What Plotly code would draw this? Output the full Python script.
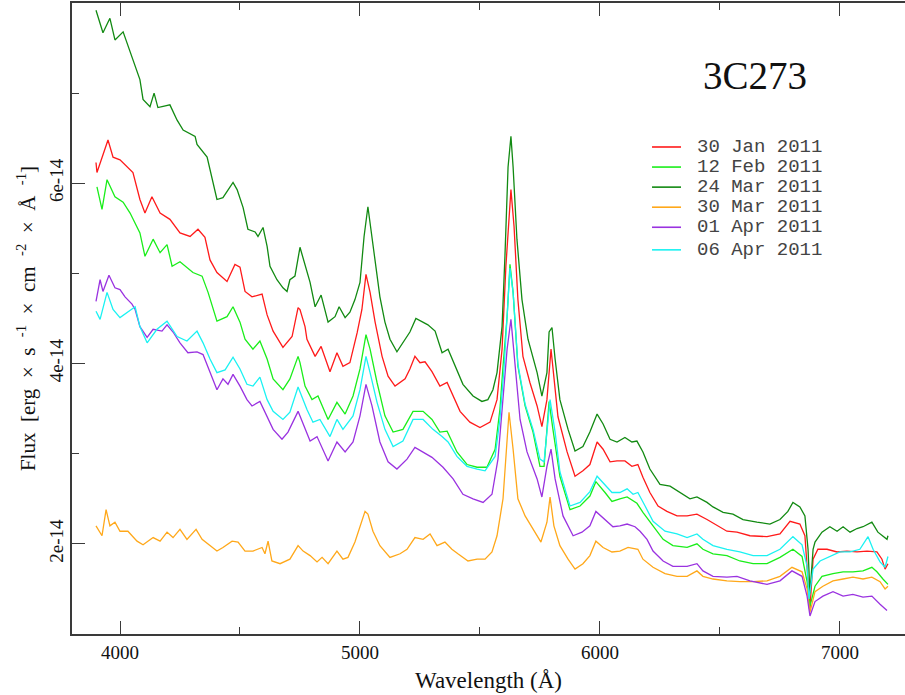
import numpy as np
import plotly.graph_objects as go

# Optical spectra of the quasar 3C 273, 2011 monitoring campaign.
# Wavelengths in Angstrom, flux in units of 1e-14 erg s^-1 cm^-2 A^-1.
FLUX_UNIT = 1e-14

wl_jan30 = [3900, 3904, 3950, 3971, 4000, 4033, 4054, 4083, 4104, 4133, 4167, 4208, 4250, 4292, 4325,
            4354, 4375, 4404, 4446, 4479, 4500, 4521, 4550, 4592, 4613, 4638, 4679, 4717, 4742, 4750,
            4771, 4779, 4813, 4838, 4875, 4904, 4929, 4958, 4988, 5008, 5025, 5042, 5063, 5092, 5117,
            5146, 5188, 5208, 5229, 5250, 5271, 5300, 5333, 5363, 5388, 5417, 5458, 5500, 5542, 5571,
            5592, 5608, 5629, 5642, 5658, 5679, 5708, 5738, 5758, 5779, 5796, 5808, 5825, 5863, 5896,
            5929, 5958, 5988, 6013, 6042, 6071, 6104, 6133, 6158, 6179, 6208, 6242, 6279, 6321, 6363,
            6404, 6446, 6488, 6529, 6571, 6625, 6696, 6750, 6792, 6833, 6854, 6867, 6875, 6888, 6908,
            6946, 6988, 7029, 7071, 7113, 7154, 7175, 7188, 7200]
flux_jan30 = [6.23, 6.12, 6.48, 6.29, 6.26, 6.18, 6.12, 5.82, 5.67, 5.85, 5.67, 5.60, 5.45, 5.41, 5.49,
              5.40, 5.15, 5.01, 4.91, 5.10, 5.07, 4.80, 4.74, 4.77, 4.54, 4.36, 4.18, 4.30, 4.62, 4.60,
              4.41, 4.27, 4.08, 4.19, 3.91, 4.12, 3.97, 4.01, 4.34, 4.60, 4.99, 4.79, 4.46, 4.08, 3.86,
              3.75, 3.83, 3.94, 4.08, 4.01, 4.02, 3.91, 3.75, 3.79, 3.64, 3.47, 3.35, 3.29, 3.35, 3.60,
              4.16, 5.08, 5.93, 5.52, 4.71, 4.08, 3.79, 3.53, 3.30, 3.60, 4.16, 3.86, 3.41, 3.02, 2.75,
              2.81, 2.88, 3.13, 3.05, 2.91, 2.92, 2.92, 2.86, 2.88, 2.74, 2.57, 2.42, 2.36, 2.31, 2.31,
              2.33, 2.27, 2.20, 2.14, 2.13, 2.09, 2.08, 2.11, 2.25, 2.22, 2.09, 1.58, 1.28, 1.83, 1.94,
              1.94, 1.91, 1.92, 1.91, 1.92, 1.91, 1.83, 1.72, 1.78]

wl_feb12 = [3904, 3925, 3946, 3979, 4013, 4042, 4083, 4104, 4138, 4167, 4196, 4217, 4250, 4304, 4342,
            4367, 4404, 4446, 4471, 4500, 4521, 4554, 4583, 4613, 4638, 4679, 4708, 4742, 4750, 4771,
            4800, 4825, 4867, 4904, 4938, 4971, 5000, 5025, 5042, 5071, 5104, 5138, 5179, 5221, 5263,
            5300, 5333, 5363, 5404, 5446, 5488, 5529, 5563, 5583, 5596, 5613, 5625, 5638, 5658, 5688,
            5721, 5750, 5767, 5788, 5804, 5833, 5875, 5917, 5958, 5983, 6021, 6050, 6083, 6113, 6154,
            6179, 6221, 6263, 6304, 6363, 6404, 6429, 6471, 6529, 6583, 6638, 6696, 6750, 6804, 6842,
            6863, 6875, 6896, 6925, 6971, 7013, 7054, 7096, 7133, 7154, 7179, 7200]
flux_feb12 = [5.96, 5.71, 6.04, 5.85, 5.79, 5.67, 5.45, 5.19, 5.38, 5.23, 5.32, 5.08, 5.13, 5.01, 4.97,
              4.79, 4.47, 4.52, 4.63, 4.46, 4.27, 4.16, 4.25, 4.05, 3.83, 3.71, 3.83, 4.08, 4.01, 3.75,
              3.60, 3.64, 3.38, 3.57, 3.44, 3.64, 3.94, 4.32, 4.16, 3.79, 3.42, 3.24, 3.27, 3.47, 3.47,
              3.38, 3.24, 3.25, 3.02, 2.88, 2.85, 2.85, 3.05, 3.49, 3.97, 4.52, 5.10, 4.79, 3.97, 3.53,
              3.24, 2.86, 2.86, 3.58, 3.27, 2.75, 2.38, 2.42, 2.53, 2.69, 2.57, 2.47, 2.50, 2.52, 2.45,
              2.35, 2.20, 2.05, 1.98, 1.96, 2.00, 1.94, 1.89, 1.87, 1.81, 1.78, 1.78, 1.85, 1.94, 1.86,
              1.58, 1.31, 1.53, 1.64, 1.67, 1.69, 1.69, 1.70, 1.74, 1.69, 1.61, 1.55]

wl_mar24 = [3900, 3929, 3958, 3979, 4013, 4029, 4054, 4083, 4096, 4125, 4142, 4158, 4208, 4238, 4263,
            4313, 4321, 4363, 4404, 4429, 4471, 4488, 4513, 4533, 4563, 4575, 4596, 4613, 4625, 4654,
            4679, 4696, 4708, 4729, 4750, 4771, 4792, 4813, 4838, 4867, 4896, 4913, 4938, 4958, 4979,
            5000, 5017, 5033, 5046, 5063, 5083, 5104, 5125, 5154, 5179, 5208, 5233, 5263, 5283, 5313,
            5342, 5367, 5396, 5429, 5471, 5508, 5533, 5554, 5571, 5592, 5604, 5617, 5629, 5638, 5654,
            5675, 5700, 5738, 5758, 5779, 5788, 5800, 5813, 5833, 5867, 5896, 5929, 5958, 5988, 6013,
            6042, 6071, 6104, 6133, 6154, 6179, 6208, 6250, 6292, 6333, 6375, 6404, 6446, 6471, 6513,
            6554, 6596, 6654, 6708, 6750, 6783, 6804, 6833, 6854, 6867, 6875, 6888, 6896, 6925, 6958,
            6988, 7013, 7042, 7071, 7096, 7133, 7158, 7196, 7200]
flux_mar24 = [7.92, 7.67, 7.83, 7.59, 7.68, 7.56, 7.39, 7.15, 6.93, 6.85, 7.00, 6.84, 6.87, 6.70, 6.59,
              6.52, 6.43, 6.29, 5.82, 5.84, 6.01, 5.93, 5.73, 5.49, 5.46, 5.41, 5.51, 5.30, 5.08, 4.93,
              4.84, 4.80, 4.93, 4.97, 5.29, 5.08, 4.90, 4.63, 4.76, 4.46, 4.52, 4.63, 4.51, 4.57, 4.71,
              4.90, 5.41, 5.74, 5.49, 5.12, 4.74, 4.46, 4.27, 4.13, 4.23, 4.35, 4.50, 4.46, 4.43, 4.36,
              4.12, 4.16, 3.97, 3.77, 3.64, 3.58, 3.60, 3.71, 3.90, 4.41, 5.19, 6.18, 6.52, 6.18, 5.38,
              4.71, 4.27, 3.90, 3.64, 3.90, 4.35, 4.40, 4.05, 3.60, 3.27, 3.03, 3.08, 3.24, 3.44, 3.33,
              3.16, 3.13, 3.18, 3.13, 3.14, 3.02, 2.83, 2.66, 2.64, 2.57, 2.50, 2.52, 2.46, 2.41, 2.35,
              2.33, 2.27, 2.24, 2.22, 2.27, 2.36, 2.46, 2.41, 2.31, 1.94, 1.45, 1.94, 2.02, 2.13, 2.19,
              2.14, 2.19, 2.13, 2.17, 2.19, 2.24, 2.13, 2.05, 2.09]

wl_mar30 = [3900, 3925, 3942, 3958, 3979, 4000, 4033, 4071, 4096, 4138, 4167, 4196, 4221, 4250, 4279,
            4317, 4342, 4375, 4404, 4429, 4467, 4492, 4521, 4554, 4592, 4604, 4617, 4633, 4667, 4708,
            4742, 4763, 4792, 4821, 4842, 4867, 4904, 4929, 4950, 4979, 5000, 5021, 5033, 5054, 5083,
            5125, 5167, 5196, 5229, 5263, 5292, 5321, 5354, 5383, 5408, 5450, 5488, 5521, 5550, 5571,
            5596, 5613, 5621, 5638, 5658, 5688, 5721, 5754, 5779, 5792, 5808, 5833, 5867, 5896, 5929,
            5958, 5983, 6013, 6050, 6083, 6117, 6158, 6179, 6221, 6271, 6321, 6363, 6404, 6429, 6471,
            6529, 6583, 6638, 6696, 6750, 6800, 6842, 6863, 6875, 6896, 6929, 6971, 7013, 7054, 7096,
            7133, 7167, 7188, 7200]
flux_mar30 = [2.20, 2.09, 2.38, 2.20, 2.24, 2.14, 2.14, 2.03, 1.99, 2.07, 2.03, 2.13, 2.07, 2.16, 2.05,
              2.16, 2.05, 1.98, 1.92, 1.96, 2.03, 2.02, 1.92, 1.92, 1.96, 1.89, 2.03, 1.81, 1.78, 1.83,
              1.98, 1.92, 1.87, 1.80, 1.85, 1.78, 1.92, 1.83, 1.85, 2.02, 2.20, 2.36, 2.33, 2.14, 1.98,
              1.85, 1.89, 1.94, 2.07, 2.05, 2.11, 1.98, 2.02, 1.94, 1.89, 1.81, 1.83, 1.83, 1.91, 2.09,
              2.50, 3.24, 3.46, 3.05, 2.50, 2.31, 2.16, 2.02, 2.24, 2.52, 2.20, 1.98, 1.83, 1.72, 1.78,
              1.87, 2.03, 1.96, 1.91, 1.92, 1.96, 1.94, 1.83, 1.74, 1.67, 1.64, 1.64, 1.70, 1.64, 1.61,
              1.59, 1.58, 1.58, 1.59, 1.64, 1.74, 1.69, 1.50, 1.24, 1.47, 1.53, 1.59, 1.61, 1.63, 1.61,
              1.63, 1.58, 1.50, 1.53]

wl_apr01 = [3900, 3917, 3929, 3954, 3979, 4000, 4021, 4050, 4063, 4083, 4113, 4138, 4175, 4196, 4221,
            4250, 4283, 4321, 4346, 4375, 4404, 4429, 4450, 4471, 4500, 4529, 4550, 4583, 4613, 4638,
            4675, 4700, 4742, 4771, 4792, 4821, 4867, 4904, 4938, 4971, 5000, 5025, 5050, 5083, 5117,
            5154, 5196, 5229, 5263, 5300, 5346, 5388, 5429, 5471, 5513, 5550, 5575, 5596, 5613, 5629,
            5646, 5667, 5696, 5738, 5758, 5779, 5796, 5813, 5846, 5888, 5925, 5958, 5983, 6021, 6054,
            6083, 6113, 6146, 6167, 6196, 6221, 6263, 6304, 6363, 6404, 6429, 6471, 6529, 6571, 6625,
            6696, 6750, 6800, 6842, 6863, 6875, 6896, 6929, 6971, 7013, 7054, 7096, 7133, 7167, 7196]
flux_apr01 = [4.69, 4.93, 4.80, 4.98, 4.84, 4.82, 4.74, 4.66, 4.60, 4.41, 4.29, 4.38, 4.36, 4.43, 4.35,
              4.23, 4.12, 4.13, 4.10, 3.90, 3.71, 3.83, 3.77, 3.88, 3.75, 3.60, 3.53, 3.58, 3.41, 3.27,
              3.16, 3.24, 3.47, 3.27, 3.14, 3.19, 2.92, 3.13, 3.02, 3.13, 3.42, 3.77, 3.53, 3.13, 2.91,
              2.83, 2.94, 3.07, 3.02, 2.96, 2.85, 2.72, 2.55, 2.50, 2.46, 2.55, 2.94, 3.60, 4.16, 4.49,
              3.97, 3.38, 3.02, 2.72, 2.52, 2.86, 3.05, 2.72, 2.31, 2.09, 2.13, 2.20, 2.36, 2.27, 2.19,
              2.20, 2.22, 2.19, 2.14, 2.05, 1.92, 1.81, 1.75, 1.75, 1.78, 1.70, 1.64, 1.63, 1.64, 1.59,
              1.55, 1.59, 1.70, 1.64, 1.42, 1.20, 1.36, 1.42, 1.47, 1.42, 1.44, 1.41, 1.42, 1.33, 1.26]

wl_apr06 = [3900, 3917, 3946, 3971, 4000, 4033, 4063, 4083, 4113, 4154, 4196, 4238, 4279, 4321, 4346,
            4375, 4404, 4438, 4471, 4500, 4529, 4554, 4583, 4613, 4638, 4679, 4708, 4742, 4771, 4779,
            4804, 4833, 4875, 4904, 4929, 4971, 5000, 5025, 5042, 5071, 5104, 5138, 5179, 5221, 5263,
            5304, 5342, 5367, 5404, 5446, 5488, 5521, 5563, 5583, 5600, 5613, 5625, 5638, 5658, 5688,
            5721, 5750, 5767, 5792, 5813, 5833, 5875, 5917, 5958, 5988, 6021, 6050, 6083, 6113, 6138,
            6158, 6188, 6221, 6271, 6321, 6363, 6404, 6429, 6471, 6529, 6583, 6638, 6696, 6750, 6804,
            6842, 6863, 6871, 6888, 6917, 6958, 7000, 7042, 7083, 7117, 7138, 7167, 7188, 7200]
flux_apr06 = [4.58, 4.49, 4.79, 4.60, 4.51, 4.57, 4.63, 4.41, 4.23, 4.38, 4.47, 4.30, 4.25, 4.36, 4.23,
              4.05, 3.90, 3.93, 4.07, 3.94, 3.77, 3.75, 3.85, 3.60, 3.47, 3.38, 3.46, 3.74, 3.53, 3.49,
              3.35, 3.38, 3.19, 3.38, 3.27, 3.42, 3.71, 4.08, 3.90, 3.57, 3.27, 3.08, 3.14, 3.38, 3.38,
              3.27, 3.19, 3.13, 2.97, 2.86, 2.83, 2.81, 2.97, 3.38, 3.94, 4.49, 5.06, 4.79, 3.99, 3.55,
              3.27, 2.94, 2.91, 3.60, 3.24, 2.80, 2.42, 2.46, 2.58, 2.75, 2.66, 2.57, 2.57, 2.61, 2.55,
              2.57, 2.42, 2.25, 2.14, 2.11, 2.07, 2.11, 2.05, 1.98, 1.94, 1.91, 1.87, 1.87, 1.94, 2.08,
              1.99, 1.75, 1.39, 1.72, 1.81, 1.86, 1.91, 1.91, 1.94, 2.08, 1.94, 1.80, 1.74, 1.86]

series = [
    ("30 Jan 2011", wl_jan30, flux_jan30, "#ff1a1a"),
    ("12 Feb 2011", wl_feb12, flux_feb12, "#1aee1a"),
    ("24 Mar 2011", wl_mar24, flux_mar24, "#128a12"),
    ("30 Mar 2011", wl_mar30, flux_mar30, "#ffa81a"),
    ("01 Apr 2011", wl_apr01, flux_apr01, "#9a32e0"),
    ("06 Apr 2011", wl_apr06, flux_apr06, "#1af2f2"),
]

x_ticks = [4000, 5000, 6000, 7000]
y_ticks = [2, 4, 6]
y_tick_text = ["2e-14", "4e-14", "6e-14"]

serif = "Liberation Serif, Times New Roman, serif"
mono = "Liberation Mono, Courier New, monospace"
NB = "\u00a0"

fig = go.Figure()
for name, wl, fl, color in series:
    fig.add_trace(go.Scatter(
        x=wl, y=np.array(fl) * FLUX_UNIT, mode="lines", name=name,
        line=dict(color=color, width=1.3), showlegend=False,
    ))

# Compact key in the upper right: a short coloured stroke and a date per row.
key_line_x = (0.6963, 0.7311)
key_text_x = 0.7483
key_top_y = 0.7718
key_step = 0.0318
shapes = []
annotations = []
for i, (name, _, _, color) in enumerate(series):
    ky = key_top_y - i * key_step - (0.004 if i == len(series) - 1 else 0)
    shapes.append(dict(type="line", xref="paper", yref="paper",
                       x0=key_line_x[0], x1=key_line_x[1], y0=ky, y1=ky,
                       line=dict(color=color, width=1.6)))
    annotations.append(dict(text=name, xref="paper", yref="paper", x=key_text_x, y=ky,
                            xanchor="left", yanchor="middle", showarrow=False,
                            font=dict(family=mono, size=19, color="#444")))

annotations.append(dict(
    text="3C273", xref="paper", yref="paper", x=0.82, y=0.885,
    xanchor="center", yanchor="middle", showarrow=False,
    font=dict(family=serif, size=39, color="#111"),
))

axis_common = dict(
    showline=True, linecolor="#3a3a3a", linewidth=1.6,
    ticks="inside", tickcolor="#3a3a3a", tickwidth=1.4, ticklen=13,
    showgrid=False, zeroline=False,
    tickfont=dict(family=serif, size=19, color="#111"),
)

S1, S2 = NB, NB * 2
y_title = (f"Flux{S2}[erg{S2}×{S2}s{S2}<sup>-1</sup>{S2}×{S2}cm{S2}<sup>-2</sup>{S2}"
           f"×{S2}Å{S2}<sup>-1</sup>]")

fig.update_layout(
    width=905, height=695,
    margin=dict(l=72, r=0, t=3, b=61),
    paper_bgcolor="white", plot_bgcolor="white",
    showlegend=False,
    shapes=shapes,
    annotations=annotations,
    xaxis=dict(
        range=[3800, 7271], tickvals=x_ticks, mirror="ticks",
        minor=dict(dtick=500, tick0=3500, ticks="inside", ticklen=7, tickcolor="#3a3a3a", tickwidth=1.4),
        title=dict(text="Wavelength (Å)", font=dict(family=serif, size=23, color="#111"), standoff=10),
        **axis_common,
    ),
    yaxis=dict(
        range=[1 * FLUX_UNIT, 8 * FLUX_UNIT],
        tickvals=[v * FLUX_UNIT for v in y_ticks], ticktext=y_tick_text, tickangle=-90,
        minor=dict(dtick=FLUX_UNIT, tick0=0, ticks="inside", ticklen=7, tickcolor="#3a3a3a", tickwidth=1.4),
        title=dict(text=y_title, font=dict(family=serif, size=21, color="#111"), standoff=4),
        **axis_common,
    ),
)

fig.write_html("out.html")
